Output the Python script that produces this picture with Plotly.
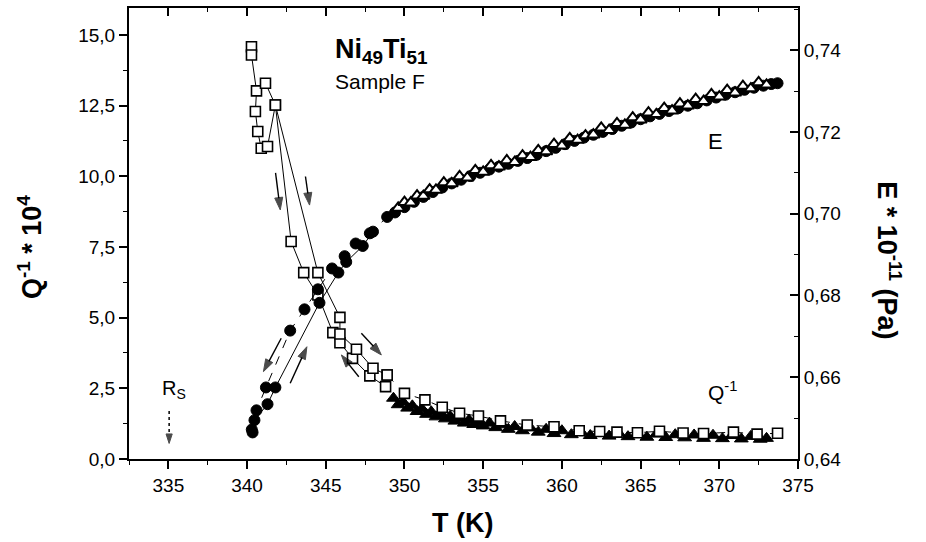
import plotly.graph_objects as go

# ---------------- data ----------------
T_TICKS = [335, 340, 345, 350, 355, 360, 365, 370, 375]
T_TICK_LABELS = ["335", "340", "345", "350", "355", "360", "365", "370", "375"]
Q_TICKS = [0, 2.5, 5, 7.5, 10, 12.5, 15]
Q_TICK_LABELS = ["0,0", "2,5", "5,0", "7,5", "10,0", "12,5", "15,0"]
E_TICKS = [0.64, 0.66, 0.68, 0.70, 0.72, 0.74]
E_TICK_LABELS = ["0,64", "0,66", "0,68", "0,70", "0,72", "0,74"]

# Q^-1, open squares, transition branch A
QA_T = [340.28, 340.28, 340.6, 340.53, 340.68, 340.9, 341.3, 341.8, 342.8, 343.6,
        344.5, 345.45, 345.9, 346.7, 347.8, 348.8]
QA_Q = [14.58, 14.29, 13.02, 12.29, 11.58, 10.99, 11.05, 12.52, 7.69, 6.59,
        5.8, 4.47, 4.11, 3.56, 2.94, 2.56]
# Q^-1, open squares, transition branch B
QB_T = [341.17, 341.8, 344.5, 345.9, 345.9, 346.95, 348.0, 348.9]
QB_Q = [13.29, 12.52, 6.59, 5.01, 4.42, 3.88, 3.21, 2.97]
# Q^-1, open squares, high temperature
QH_T = [348.9, 350.0, 351.3, 352.4, 353.5, 354.7, 356.1, 357.8, 359.5, 361.1,
        362.4, 363.5, 364.8, 366.2, 367.7, 369.0, 370.9, 372.4, 373.7]
QH_Q = [2.97, 2.32, 2.09, 1.83, 1.62, 1.52, 1.35, 1.2, 1.14, 1.0,
        0.97, 0.95, 0.93, 0.98, 0.92, 0.9, 0.95, 0.88, 0.91]
# Q^-1, filled triangles
QT_T = [349.3, 349.6, 349.9, 350.2, 350.5, 350.8, 351.1, 351.4, 351.7, 352.0,
        352.3, 352.6, 352.9, 353.2, 353.5, 353.8, 354.1, 354.4, 354.7, 355.0,
        355.4, 355.8, 356.2, 356.6, 357.0, 357.5, 358.0, 358.5, 359.0, 359.5,
        360.0, 360.6, 361.2, 361.8, 362.4, 363.0, 363.6, 364.2, 364.8, 365.4,
        366.0, 366.6, 367.2, 367.8, 368.4, 369.0, 369.6, 370.2, 370.8, 371.4,
        372.0, 372.6, 373.0]
QT_Q = [2.15, 1.92, 2.02, 1.80, 1.88, 1.68, 1.78, 1.58, 1.67, 1.49,
        1.58, 1.42, 1.51, 1.34, 1.44, 1.27, 1.38, 1.22, 1.33, 1.17,
        1.27, 1.11, 1.21, 1.05, 1.15, 1.0, 1.1, 0.95, 1.05, 0.9,
        1.0, 0.86, 0.97, 0.83, 0.94, 0.81, 0.92, 0.79, 0.9, 0.77,
        0.88, 0.76, 0.86, 0.75, 0.85, 0.73, 0.84, 0.72, 0.83, 0.71,
        0.8, 0.7, 0.73]

# E, filled circles, branch A (connected, dashed)
EA_T = [340.35, 340.6, 341.2, 342.74, 343.65, 344.5, 345.4, 346.2, 346.9, 347.8,
        348.9, 349.4, 350.0, 350.6, 351.2, 351.8, 352.4, 353.0, 353.6, 354.2,
        354.8, 355.4, 356.0, 356.6, 357.2, 357.8, 358.4, 359.0, 359.6, 360.2,
        360.8, 361.4, 362.0, 362.6, 363.2, 363.8, 364.4, 365.0, 365.6, 366.2,
        366.8, 367.4, 368.0, 368.6, 369.2, 369.8, 370.4, 371.0, 371.6, 372.2,
        372.8, 373.3, 373.7]
EA_E = [0.6465, 0.6519, 0.6575, 0.6714, 0.6766, 0.6815, 0.6866, 0.6896, 0.6927, 0.6952,
        0.6992, 0.7003, 0.7016, 0.7029, 0.7041, 0.7053, 0.7064, 0.7074, 0.7083, 0.7092,
        0.7100, 0.7108, 0.7115, 0.7122, 0.7129, 0.7136, 0.7144, 0.7153, 0.7161, 0.7170,
        0.7178, 0.7186, 0.7193, 0.7200, 0.7207, 0.7215, 0.7223, 0.7231, 0.7238, 0.7244,
        0.7251, 0.7258, 0.7264, 0.7270, 0.7277, 0.7284, 0.7291, 0.7297, 0.7303, 0.7308,
        0.7313, 0.7317, 0.7319]
# E, filled circles, branch B
EB_T = [340.3, 340.47, 341.3, 341.8, 344.6, 345.8, 346.3, 347.35, 348.0]
EB_E = [0.6472, 0.6495, 0.6534, 0.6575, 0.6782, 0.6856, 0.6882, 0.6921, 0.6956]
# E, open triangles
ET_T = [349.6, 350.0, 350.4, 350.8, 351.2, 351.6, 352.0, 352.5, 353.0, 353.5,
        354.0, 354.5, 355.0, 355.5, 356.0, 356.5, 357.0, 357.5, 358.0, 358.5,
        359.0, 359.5, 360.0, 360.5, 361.0, 361.5, 362.0, 362.5, 363.0, 363.5,
        364.0, 364.5, 365.0, 365.5, 366.0, 366.5, 367.0, 367.5, 368.0, 368.5,
        369.0, 369.5, 370.0, 370.5, 371.0, 371.5, 372.0, 372.5, 373.0]
ET_E = [0.7014, 0.7028, 0.7027, 0.7044, 0.7043, 0.7059, 0.7058, 0.7076, 0.7074, 0.7091,
        0.7088, 0.7106, 0.7102, 0.7118, 0.7115, 0.7130, 0.7126, 0.7142, 0.7138, 0.7155,
        0.7152, 0.7170, 0.7166, 0.7184, 0.7180, 0.7191, 0.7193, 0.7210, 0.7204, 0.7221,
        0.7217, 0.7235, 0.7230, 0.7247, 0.7243, 0.7258, 0.7252, 0.7269, 0.7264, 0.7280,
        0.7275, 0.7292, 0.7286, 0.7302, 0.7296, 0.7312, 0.7306, 0.7321, 0.7315]

T_RANGE = [332.5, 375]
Q_RANGE = [0, 15.95]
E_RANGE = [0.64, 0.7503]

FONT = "Liberation Sans, Arial, sans-serif"

# ---------------- figure ----------------
fig = go.Figure()

open_sq = dict(symbol="square", size=10, color="white", line=dict(color="black", width=1.6))
fill_tri = dict(symbol="triangle-up", size=12, color="black", line=dict(color="black", width=1))
open_tri = dict(symbol="triangle-up", size=11, color="white", line=dict(color="black", width=2))
fill_circ = dict(symbol="circle", size=11, color="black", line=dict(color="black", width=1))

# Q^-1 (left axis)
fig.add_trace(go.Scatter(x=QT_T, y=QT_Q, mode="markers+lines", marker=fill_tri,
                         line=dict(color="black", width=1, dash="dash"), xaxis="x", yaxis="y"))
fig.add_trace(go.Scatter(x=QH_T, y=QH_Q, mode="markers+lines", marker=open_sq,
                         line=dict(color="black", width=1, dash="dash"), xaxis="x", yaxis="y"))
fig.add_trace(go.Scatter(x=QA_T, y=QA_Q, mode="markers+lines", marker=open_sq,
                         line=dict(color="black", width=1), xaxis="x", yaxis="y"))
fig.add_trace(go.Scatter(x=QB_T, y=QB_Q, mode="markers+lines", marker=open_sq,
                         line=dict(color="black", width=1), xaxis="x", yaxis="y"))

# E (right axis)
fig.add_trace(go.Scatter(x=EA_T, y=EA_E, mode="markers+lines", marker=fill_circ,
                         line=dict(color="black", width=1, dash="dash"), xaxis="x", yaxis="y2"))
fig.add_trace(go.Scatter(x=EB_T, y=EB_E, mode="markers+lines", marker=fill_circ,
                         line=dict(color="black", width=1), xaxis="x", yaxis="y2"))
fig.add_trace(go.Scatter(x=ET_T, y=ET_E, mode="markers", marker=open_tri,
                         xaxis="x", yaxis="y2"))

# ---------------- arrows (tail -> head, in T / Q coordinates) ----------------
ARROWS = [
    ((341.81, 10.12), (342.11, 8.81)),
    ((343.71, 9.99), (343.97, 8.98)),
    ((342.17, 4.27), (341.04, 3.09)),
    ((342.74, 2.68), (343.80, 3.97)),
    ((347.26, 4.45), (348.53, 3.68)),
    ((347.10, 2.91), (345.99, 3.68)),
]
for (tx, ty), (hx, hy) in ARROWS:
    fig.add_trace(go.Scatter(x=[tx, hx], y=[ty, hy], mode="lines+markers",
                             line=dict(color="black", width=1.4),
                             marker=dict(symbol="arrow", size=[0, 13], angleref="previous",
                                         color="black", line=dict(color="black", width=1)),
                             xaxis="x", yaxis="y", hoverinfo="skip"))

# dotted arrow under R_S
RS_ARROW = ((335.05, 1.7), (335.05, 0.55))
fig.add_trace(go.Scatter(x=[RS_ARROW[0][0], RS_ARROW[1][0]], y=[RS_ARROW[0][1], RS_ARROW[1][1]],
                         mode="lines+markers", line=dict(color="black", width=1.5, dash="dot"),
                         marker=dict(symbol="arrow", size=[0, 10], angleref="previous",
                                     color="black", line=dict(color="black", width=1)),
                         xaxis="x", yaxis="y", hoverinfo="skip"))

# dummy trace for the top (mirror) axis
fig.add_trace(go.Scatter(x=[], y=[], xaxis="x3", yaxis="y", hoverinfo="skip"))

axis_line = dict(showline=True, linecolor="black", linewidth=2, showgrid=False, zeroline=False)
tickfont = dict(family=FONT, size=19, color="black")

fig.update_layout(
    width=926, height=542,
    margin=dict(l=129, r=128, t=8, b=83),
    paper_bgcolor="white", plot_bgcolor="white",
    showlegend=False,
    font=dict(family=FONT, size=18, color="black"),
    xaxis=dict(range=T_RANGE, tickvals=T_TICKS, ticktext=T_TICK_LABELS,
               ticks="outside", ticklen=8, tickwidth=1.5, tickcolor="black", tickfont=tickfont,
               minor=dict(ticks="outside", ticklen=4, tickwidth=1.2, dtick=2.5, tick0=0,
                          tickcolor="black"),
               **axis_line),
    xaxis3=dict(range=T_RANGE, overlaying="x", side="top", anchor="y",
                tickvals=T_TICKS, showticklabels=False,
                ticks="inside", ticklen=8, tickwidth=1.5, tickcolor="black",
                minor=dict(ticks="inside", ticklen=4, tickwidth=1.2, dtick=2.5, tick0=0,
                           tickcolor="black"),
                **axis_line),
    yaxis=dict(range=Q_RANGE, tickvals=Q_TICKS, ticktext=Q_TICK_LABELS,
               ticks="outside", ticklen=8, tickwidth=1.5, tickcolor="black", tickfont=tickfont,
               minor=dict(ticks="outside", ticklen=4, tickwidth=1.2, dtick=1.25, tick0=0,
                          tickcolor="black"),
               **axis_line),
    yaxis2=dict(range=E_RANGE, overlaying="y", side="right", anchor="x",
                tickvals=E_TICKS, ticktext=E_TICK_LABELS,
                ticks="inside", ticklen=8, tickwidth=1.5, tickcolor="black", tickfont=tickfont,
                minor=dict(ticks="inside", ticklen=4, tickwidth=1.2, dtick=0.01, tick0=0.64,
                           tickcolor="black"),
                **axis_line),
)

# ---------------- text labels ----------------
def txt(x, y, text, size, xanchor="center", angle=0, bold=False):
    if bold:
        text = "<b>" + text + "</b>"
    fig.add_annotation(x=x, y=y, xref="paper", yref="paper", text=text, showarrow=False,
                       xanchor=xanchor, yanchor="middle", textangle=angle,
                       font=dict(family=FONT, size=size, color="black"))

txt(0.498, -0.142, "T (K)", 27, bold=True)
txt(-0.148, 0.47, "Q<sup>-1</sup> * 10<sup>4</sup>", 27, angle=-90, bold=True)
txt(1.136, 0.441, "E * 10<sup>-11</sup> (Pa)", 27, angle=90, bold=True)
txt(0.305, 0.905, "Ni<sub>49</sub>Ti<sub>51</sub>", 27, xanchor="left", bold=True)
txt(0.305, 0.836, "Sample F", 21, xanchor="left")
txt(0.876, 0.703, "E", 22)
txt(0.862, 0.15, "Q<sup>-1</sup>", 21, xanchor="left")
txt(0.047, 0.155, "R<sub>S</sub>", 20, xanchor="left")

fig.write_html("out.html", config={"displayModeBar": False},
               post_script="document.body.style.margin='0px';")
